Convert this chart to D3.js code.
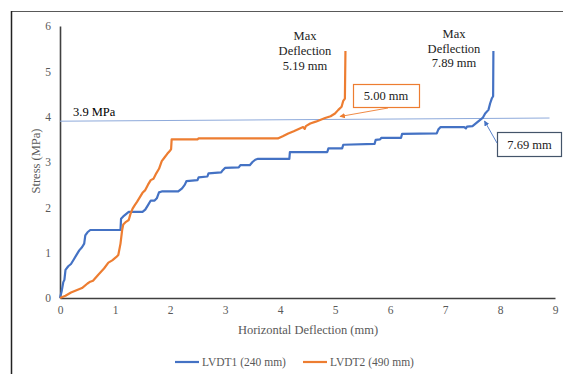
<!DOCTYPE html>
<html><head><meta charset="utf-8">
<script src="https://cdn.jsdelivr.net/npm/d3@7"></script>
<style>body{margin:0;background:#fff}svg{display:block}svg text{font-family:"Liberation Serif","DejaVu Serif",serif !important}</style>
</head><body><svg id="c" width="563" height="374"></svg>
<script>
const xTicks=[0,1,2,3,4,5,6,7,8,9];
const yTicks=[0,1,2,3,4,5,6];
const lvdt1=[[0,0],[0.03,0.15],[0.06,0.35],[0.08,0.4],[0.1,0.62],[0.15,0.7],[0.2,0.75],[0.25,0.85],[0.3,0.95],[0.35,1.05],[0.4,1.12],[0.44,1.2],[0.46,1.38],[0.5,1.45],[0.55,1.5],[1.1,1.5],[1.11,1.75],[1.15,1.8],[1.2,1.85],[1.25,1.9],[1.5,1.9],[1.55,1.95],[1.6,2.05],[1.65,2.15],[1.72,2.15],[1.76,2.2],[1.8,2.33],[1.85,2.35],[2.15,2.35],[2.22,2.42],[2.27,2.5],[2.3,2.58],[2.5,2.6],[2.52,2.66],[2.68,2.68],[2.7,2.75],[2.93,2.77],[2.96,2.82],[3.0,2.87],[3.25,2.88],[3.28,2.93],[3.45,2.93],[3.5,3.0],[3.55,3.05],[3.6,3.07],[4.17,3.07],[4.18,3.22],[4.86,3.22],[4.88,3.3],[5.13,3.3],[5.15,3.38],[5.72,3.4],[5.74,3.49],[5.82,3.5],[5.84,3.53],[6.2,3.53],[6.22,3.62],[6.85,3.63],[6.88,3.72],[6.92,3.77],[7.35,3.77],[7.38,3.74],[7.4,3.78],[7.5,3.79],[7.6,3.89],[7.69,3.98],[7.73,4.07],[7.79,4.15],[7.82,4.29],[7.85,4.4],[7.875,4.45],[7.88,5.45]];
const lvdt2=[[0,0],[0.1,0.05],[0.2,0.12],[0.3,0.17],[0.4,0.22],[0.5,0.32],[0.55,0.36],[0.6,0.38],[0.7,0.52],[0.8,0.65],[0.88,0.78],[0.95,0.83],[1.02,0.9],[1.06,0.95],[1.1,1.2],[1.13,1.5],[1.15,1.62],[1.2,1.68],[1.25,1.72],[1.28,1.85],[1.32,1.97],[1.36,2.05],[1.4,2.12],[1.45,2.22],[1.5,2.32],[1.55,2.38],[1.6,2.5],[1.65,2.6],[1.7,2.63],[1.75,2.75],[1.8,2.85],[1.85,3.02],[1.9,3.1],[1.95,3.18],[2.0,3.25],[2.02,3.28],[2.03,3.5],[2.5,3.5],[2.52,3.52],[3.96,3.52],[4.05,3.57],[4.15,3.63],[4.25,3.68],[4.36,3.74],[4.42,3.77],[4.45,3.73],[4.47,3.79],[4.55,3.85],[4.65,3.89],[4.82,3.97],[4.92,4.01],[5.0,4.07],[5.06,4.15],[5.12,4.22],[5.15,4.35],[5.18,4.4],[5.19,5.45]];
const refLine=[[0,3.9],[8.9,3.97]];
const seriesNames=["LVDT1 (240 mm)","LVDT2 (490 mm)"];
const colors=["#4472C4","#ED7D31"];
const FONT="Liberation Serif";

const svg=d3.select("#c");
const x=d3.scaleLinear().domain([0,9]).range([60,555]);
const y=d3.scaleLinear().domain([0,6]).range([298,26]);

// frame
svg.append("line").attr("x1",11.5).attr("x2",563).attr("y1",11.5).attr("y2",11.5).attr("stroke","#595959").attr("stroke-width",1.2);
svg.append("line").attr("x1",11.5).attr("x2",11.5).attr("y1",11).attr("y2",374).attr("stroke","#222").attr("stroke-width",1.5);

// axes
const xa=svg.append("g").attr("transform","translate(0,298)").call(d3.axisBottom(x).tickValues(xTicks).tickSize(0).tickPadding(8).tickFormat(d3.format("d")));
xa.attr("font-family",FONT);
xa.select(".domain").attr("stroke","#404040").attr("stroke-width",1.6);
const ya=svg.append("g").attr("transform","translate(60,0)").call(d3.axisLeft(y).tickValues(yTicks).tickSize(0).tickPadding(9).tickFormat(d3.format("d")));
ya.attr("font-family",FONT);
ya.select(".domain").attr("stroke","#404040").attr("stroke-width",1.6);
svg.selectAll(".tick text").attr("fill","#595959").attr("font-size",11.5).attr("font-family",FONT);
svg.selectAll(".tick line").remove();

// ref line
const line=d3.line().x(d=>x(d[0])).y(d=>y(d[1]));
svg.append("path").attr("d",line(refLine)).attr("stroke","#8EAADB").attr("stroke-width",1).attr("fill","none");
svg.append("text").attr("x",73).attr("y",116).attr("font-size",12.5).attr("fill","#000").attr("font-family",FONT).text("3.9 MPa");

[lvdt1,lvdt2].forEach((s,i)=>{
  svg.append("path").attr("d",line(s)).attr("stroke",colors[i]).attr("stroke-width",2.2).attr("fill","none").attr("stroke-linejoin","round");
});

// titles
svg.append("text").attr("x",308).attr("y",334).attr("text-anchor","middle").attr("font-size",12.5).attr("fill","#595959").attr("font-family",FONT).text("Horizontal Deflection (mm)");
svg.append("text").attr("transform","translate(40,161) rotate(-90)").attr("text-anchor","middle").attr("font-size",12.5).attr("fill","#595959").attr("font-family",FONT).text("Stress (MPa)");

// annotations
function multi(cx,ys,lines){lines.forEach((t,i)=>svg.append("text").attr("x",cx).attr("y",ys[i]).attr("text-anchor","middle").attr("font-size",12.5).attr("fill","#222").attr("font-family",FONT).text(t));}
multi(305,[40,55,70],["Max","Deflection","5.19 mm"]);
multi(454,[38,53,67],["Max","Deflection","7.89 mm"]);

const defs=svg.append("defs");
function marker(id,col){defs.append("marker").attr("id",id).attr("viewBox","0 0 10 10").attr("refX",9).attr("refY",5).attr("markerWidth",6).attr("markerHeight",6).attr("orient","auto").append("path").attr("d","M0,0L10,5L0,10z").attr("fill",col);}
marker("ao","#ED7D31");marker("ab","#4472C4");

svg.append("rect").attr("x",353.5).attr("y",84.5).attr("width",66).attr("height",23).attr("fill","#fff").attr("stroke","#ED7D31").attr("stroke-width",1.2);
svg.append("text").attr("x",386).attr("y",100).attr("text-anchor","middle").attr("font-size",12.5).attr("fill","#222").attr("font-family",FONT).text("5.00 mm");
svg.append("line").attr("x1",388).attr("y1",108).attr("x2",340).attr("y2",116.5).attr("stroke","#ED7D31").attr("stroke-width",0.9).attr("marker-end","url(#ao)");

svg.append("rect").attr("x",497.5).attr("y",132.5).attr("width",64).attr("height",24).attr("fill","#fff").attr("stroke","#44546A").attr("stroke-width",1.2);
svg.append("text").attr("x",529.5).attr("y",149).attr("text-anchor","middle").attr("font-size",12.5).attr("fill","#222").attr("font-family",FONT).text("7.69 mm");
svg.append("line").attr("x1",497).attr("y1",143).attr("x2",484.5).attr("y2",121).attr("stroke","#4472C4").attr("stroke-width",0.9).attr("marker-end","url(#ab)");

// legend
const lg=[[175,202],[303,330]];
seriesNames.forEach((n,i)=>{
  svg.append("line").attr("x1",lg[i][0]).attr("x2",lg[i][0]+24).attr("y1",362).attr("y2",362).attr("stroke",colors[i]).attr("stroke-width",2.2);
  svg.append("text").attr("x",lg[i][1]).attr("y",366).attr("font-size",11.5).attr("fill","#595959").attr("font-family",FONT).text(n);
});
</script></body></html>
